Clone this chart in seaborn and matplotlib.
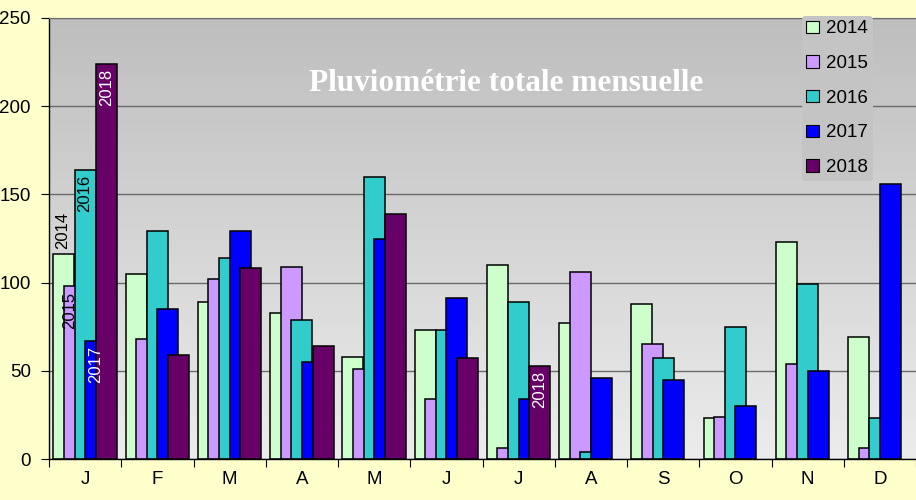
import numpy as np
import pandas as pd
import seaborn as sns
import matplotlib.pyplot as plt
from matplotlib.colors import LinearSegmentedColormap
from matplotlib.patches import Patch

# pluviometrie mensuelle (mm)
mois = ['J', 'F', 'M', 'A', 'M', 'J', 'J', 'A', 'S', 'O', 'N', 'D']
annees = ['2014', '2015', '2016', '2017', '2018']
p2014 = [116, 105, 89, 83, 58, 73, 110, 77, 88, 23, 123, 69]
p2015 = [98, 68, 102, 109, 51, 34, 6, 106, 65, 24, 54, 6]
p2016 = [164, 129, 114, 79, 160, 73, 89, 4, 57, 75, 99, 23]
p2017 = [67, 85, 129, 55, 125, 91, 34, 46, 45, 30, 50, 156]
p2018 = [224, 59, 108, 64, 139, 57, 53, np.nan, np.nan, np.nan, np.nan, np.nan]
couleurs = ['#CCFFCC', '#CC99FF', '#33CCCC', '#0000FF', '#660066']

# etiquettes (mois, annee) affichees sur les barres
etiquettes = [(0, 0), (0, 1), (0, 2), (0, 3), (0, 4), (6, 4)]

series = [p2014, p2015, p2016, p2017, p2018]
lignes = []
for a, vals in zip(annees, series):
    for m, v in enumerate(vals):
        lignes.append({'mois': m, 'annee': a, 'pluie': v})
df = pd.DataFrame(lignes).dropna()

plt.rcParams['font.family'] = ['Liberation Sans', 'DejaVu Sans']

fig = plt.figure(figsize=(9.16, 5), dpi=100, facecolor='#FFFFCC')
ax = fig.add_axes([49 / 916, 41 / 500, 867 / 916, 441 / 500])

# fond degrade gris
cmap = LinearSegmentedColormap.from_list('fond', ['#ECECEC', '#BEBEBE'])
grad = np.linspace(0, 1, 256).reshape(-1, 1)
ax.imshow(grad, cmap=cmap, aspect='auto', extent=[0, 1, 0, 1],
          transform=ax.transAxes, origin='lower', zorder=0)

avant = len(ax.patches)
sns.barplot(data=df, x='mois', y='pluie', hue='annee', hue_order=annees,
            palette=couleurs, saturation=1, width=0.735, errorbar=None,
            edgecolor='black', linewidth=1.1, legend=False, ax=ax)

pas = 0.147
larg = 0.29
for p in ax.patches[avant:]:
    p.set_x(p.get_x() - 0.0725)
    p.set_width(larg)

for m, k in etiquettes:
    v = series[k][m]
    xc = m - 0.44 + k * pas + larg / 2
    coul = 'white' if k >= 3 else 'black'
    if k == 0:
        ax.text(xc - 0.02, v + 3, annees[k], rotation=90, ha='center', va='bottom',
                fontsize=12, color=coul, zorder=5)
    else:
        dx = -0.07 if k == 1 else 0
        ax.text(xc + dx, v - 3, annees[k], rotation=90, ha='center', va='top',
                fontsize=12, color=coul, zorder=5)

ax.set_xlim(-0.5, 11.5)
ax.set_ylim(0, 250)
ax.set_yticks(range(0, 251, 50))
ax.set_xticks(np.arange(-0.5, 12, 1))
ax.set_xticklabels([])
ax.set_xticks(range(12), minor=True)
ax.set_xticklabels(mois, minor=True)
ax.tick_params(axis='x', which='major', length=6, color='black', direction='out')
ax.tick_params(axis='x', which='minor', length=0, pad=9, labelsize=13.5)
ax.tick_params(axis='y', length=6, labelsize=13.5, pad=7, color='black')
ax.set_xlabel('')
ax.set_ylabel('')

ax.yaxis.grid(True, color='#6A6A6A', linewidth=1)
ax.set_axisbelow(True)
for s in ['left', 'bottom']:
    ax.spines[s].set_color('black')
    ax.spines[s].set_linewidth(1)
ax.spines['top'].set_color('#6A6A6A')
ax.spines['right'].set_visible(False)

ax.text(0.527, 0.852, 'Pluviométrie totale mensuelle', transform=ax.transAxes,
        ha='center', va='center', color='white', fontsize=22.5, fontweight='bold',
        family='Liberation Serif', zorder=6)

poignees = [Patch(facecolor=c, edgecolor='black', linewidth=0.8) for c in couleurs]
leg = ax.legend(poignees, annees, loc='upper right', bbox_to_anchor=(0.95, 1.005),
                fontsize=13.5, handlelength=0.65, handleheight=0.65, handletextpad=0.4,
                labelspacing=0.94, borderpad=0.25, frameon=True, facecolor='#C4C4C4',
                edgecolor='none', framealpha=1, borderaxespad=0)
leg.get_frame().set_linewidth(0)
leg.set_zorder(7)

fig.savefig('out.png', dpi=100, facecolor=fig.get_facecolor())
